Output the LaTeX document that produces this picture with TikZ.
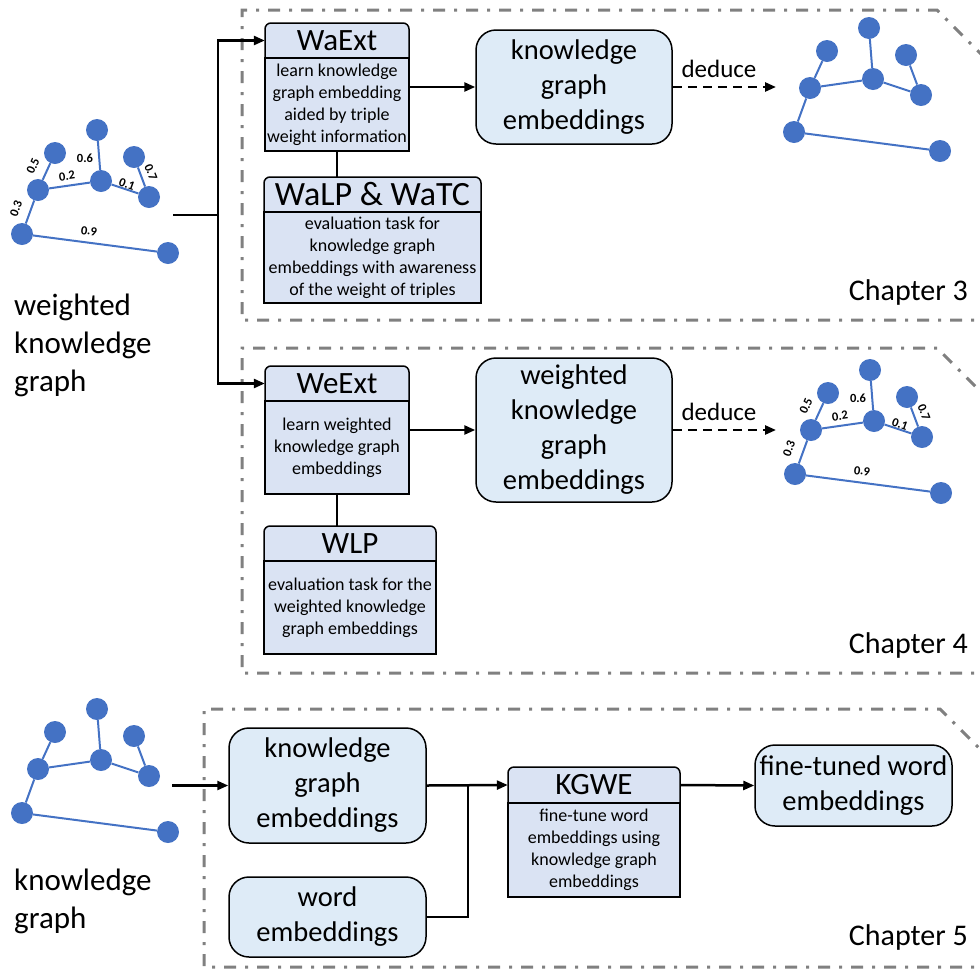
\documentclass[tikz,border=0pt]{standalone}
\usepackage{fontspec}
\setmainfont{Carlito}
\usetikzlibrary{arrows.meta}
\definecolor{gblue}{RGB}{68,114,196}
\definecolor{hfill}{RGB}{218,227,243}
\definecolor{bfill}{RGB}{222,235,247}
\definecolor{fgray}{RGB}{128,128,128}
\tikzset{
 gnode/.style={circle, fill=gblue, minimum size=22pt, inner sep=0pt},
 gedge/.style={draw=gblue, line width=2pt},
 wlab/.style={font=\bfseries\fontsize{12.5}{14}\selectfont, inner sep=0pt},
 chframe/.style={draw=fgray, line width=3pt, dash pattern=on 12pt off 9pt on 3pt off 9pt},
 tbg/.style={draw=black, fill=hfill, line width=1.5pt, rounded corners=6pt, inner sep=0pt},
 tbody/.style={draw=black, fill=hfill, line width=1.5pt, inner sep=0pt, align=center, font=\fontsize{18}{22}\selectfont},
 hdr/.style={inner sep=0pt, font=\fontsize{31}{36}\selectfont},
 bigbox/.style={draw=black, fill=bfill, line width=1.5pt, rounded corners=20pt, align=center, inner sep=0pt, font=\fontsize{28.5}{35}\selectfont},
 conn/.style={draw=black, line width=2.5pt},
 arr/.style={conn, -{Triangle[length=11pt,width=9pt]}},
 darr/.style={arr, dash pattern=on 9pt off 6pt},
 sidetext/.style={inner sep=0pt, align=left, font=\fontsize{31}{38}\selectfont},
 chtext/.style={inner sep=0pt, font=\fontsize{30}{36}\selectfont},
 dedtext/.style={inner sep=0pt, font=\fontsize{25}{30}\selectfont},
}
% name, cx, width, top, divider, bottom, header, body
\newcommand\tbox[8]{%
 \pgfmathsetmacro\tbH{#6-#4}\pgfmathsetmacro\tbC{(#4+#6)/2}%
 \pgfmathsetmacro\thH{#5-#4}\pgfmathsetmacro\thC{(#4+#5)/2}%
 \pgfmathsetmacro\tbbH{#6-#5}\pgfmathsetmacro\tbbC{(#5+#6)/2}%
 \node[tbg, minimum width=#3pt, minimum height=\tbH pt] (#1) at (#2,\tbC) {};
 \node[tbody, minimum width=#3pt, minimum height=\tbbH pt] (#1b) at (#2,\tbbC) {#8};
 \node[hdr, minimum width=#3pt, minimum height=\thH pt] (#1h) at (#2,\thC) {#7};
}
\newcommand\kgraph[2]{%
 \begin{scope}[shift={#2}]
 \node[gnode] (#1a) at (97,130) {};
 \node[gnode] (#1b) at (55,153) {};
 \node[gnode] (#1c) at (38,190) {};
 \node[gnode] (#1d) at (101,181) {};
 \node[gnode] (#1e) at (134,157) {};
 \node[gnode] (#1f) at (149,197) {};
 \node[gnode] (#1g) at (22,234) {};
 \node[gnode] (#1h) at (168,253) {};
 \draw[gedge] (#1b) -- (#1c) (#1c) -- (#1d) (#1a) -- (#1d) (#1d) -- (#1f)
   (#1e) -- (#1f) (#1c) -- (#1g) (#1g) -- (#1h);
 \end{scope}}
\newcommand\klabels[2]{%
 \begin{scope}[shift={#2}]
 \node[wlab, rotate=66] (#1w5) at (33,166) {0.5};
 \node[wlab, rotate=8] (#1w2) at (67,176) {0.2};
 \node[wlab] (#1w6) at (85,158) {0.6};
 \node[wlab, rotate=-20] (#1w1) at (127,184) {0.1};
 \node[wlab, rotate=-68] (#1w7) at (151,172) {0.7};
 \node[wlab, rotate=70] (#1w3) at (16,209) {0.3};
 \node[wlab, rotate=-7] (#1w9) at (89,231) {0.9};
 \end{scope}}
\begin{document}
\begin{tikzpicture}[x=1pt,y=-1pt]
\useasboundingbox (0,0) rectangle (980,970);
% chapter frames
\draw[chframe] (995,320) -- (242,320) -- (242,10) -- (937,10) -- (1000,73);
\draw[chframe] (995,673) -- (242,673) -- (242,348) -- (937,348) -- (1000,411);
\draw[chframe] (995,967) -- (204,967) -- (204,709) -- (940,709) -- (1000,769);
% graphs
\kgraph{ga}{(0,0)}
\klabels{ga}{(0,0)}
\kgraph{gb}{(772,-102)}
\kgraph{gc}{(773,240)}
\klabels{gc}{(773,240)}
\kgraph{gd}{(0,579)}
% side texts
\node[sidetext, anchor=west] (wkgtext) at (14,345) {weighted\\knowledge\\graph};
\node[sidetext, anchor=west] (kgtext) at (14,901) {knowledge\\graph};
\node[chtext, anchor=base east] (ch3) at (968,300) {Chapter 3};
\node[chtext, anchor=base east] (ch4) at (968,653) {Chapter 4};
\node[chtext, anchor=base east] (ch5) at (968,945) {Chapter 5};
% chapter 3
\tbox{waext}{337}{144}{23}{58}{151}{WaExt}{learn knowledge\\graph embedding\\aided by triple\\weight information}
\tbox{walp}{372.5}{217}{177}{212}{303}{{\fontsize{34}{40}\selectfont WaLP \& WaTC}}{evaluation task for\\knowledge graph\\embeddings with awareness\\of the weight of triples}
\node[bigbox, minimum width=196pt, minimum height=114pt] (kge) at (574,87) {knowledge\\graph\\embeddings};
% chapter 4
\tbox{weext}{337}{144}{366}{401}{494}{WeExt}{learn weighted\\knowledge graph\\embeddings}
\tbox{wlp}{350}{172}{526}{561}{654}{WLP}{evaluation task for the\\weighted knowledge\\graph embeddings}
\node[bigbox, minimum width=196pt, minimum height=144pt] (wkge) at (574,430) {weighted\\knowledge\\graph\\embeddings};
% chapter 5
\node[bigbox, minimum width=197pt, minimum height=115pt] (kge5) at (327.5,785.5) {knowledge\\graph\\embeddings};
\node[bigbox, minimum width=197pt, minimum height=80pt] (we5) at (327.5,917) {word\\embeddings};
\tbox{kgwe}{594}{172}{767}{803}{897}{KGWE}{fine-tune word\\embeddings using\\knowledge graph\\embeddings}
\node[bigbox, minimum width=197pt, minimum height=81pt] (fine) at (853.5,785.5) {fine-tuned word\\embeddings};
% connectors
\coordinate (g1out) at (173,215);
\coordinate (split1) at (218,215);
\draw[conn] (g1out) -- (split1);
\draw[arr] (split1) |- (waexth.west);
\draw[arr] (split1) |- (weexth.west);
\draw[arr] (kge.west -| waextb.east) -- (kge.west);
\draw[conn] (waextb.south) -- (waextb.south |- walph.north);
\coordinate (g2in) at (776,87);
\draw[darr] (kge.east) -- (g2in);
\node[dedtext] (ded3) at (719,69) {deduce};
\draw[arr] (wkge.west -| weextb.east) -- (wkge.west);
\draw[conn] (weextb.south) -- (weextb.south |- wlph.north);
\coordinate (g4in) at (776,430);
\draw[darr] (wkge.east) -- (g4in);
\node[dedtext] (ded4) at (719,412) {deduce};
\coordinate (g3out) at (172,785.5);
\draw[arr] (g3out) -- (kge5.west);
\draw[arr] (kge5.east) -- (kgweh.west);
\coordinate (junc) at (468,785);
\draw[conn] (we5.east) -| (junc);
\draw[arr] (kgweh.east) -- (fine.west);
\end{tikzpicture}
\end{document}
